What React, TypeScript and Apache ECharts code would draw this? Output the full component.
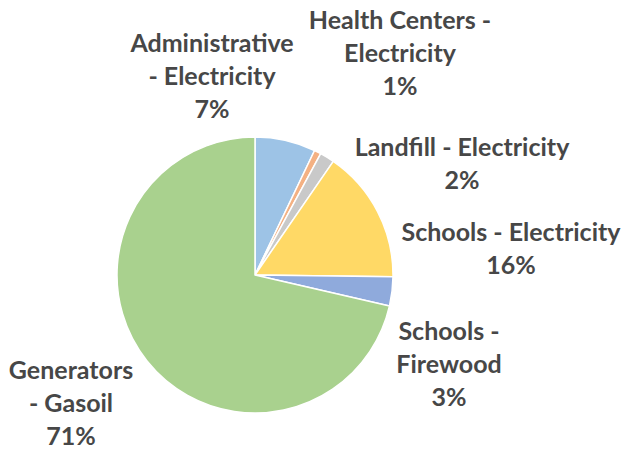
import React, { useEffect, useRef } from "react";
import * as echarts from "echarts";

const categories = [
  "Administrative\n- Electricity",
  "Health Centers -\nElectricity",
  "Landfill - Electricity",
  "Schools - Electricity",
  "Schools -\nFirewood",
  "Generators\n- Gasoil",
];
const values = [7.1, 0.8, 1.7, 15.6, 3.4, 71.4];
const colors = ["#9DC3E6", "#F4B183", "#C9C9C9", "#FFD966", "#8FAADC", "#A9D18E"];
// label anchor points (center of label block)
const labelPos: [number, number][] = [
  [212, 75],
  [400, 52],
  [462, 162],
  [511, 247],
  [449, 363],
  [71, 402],
];

export default function App() {
  const ref = useRef<HTMLDivElement>(null);
  useEffect(() => {
    if (!ref.current) return;
    const chart = echarts.init(ref.current, undefined, { renderer: "svg" });
    chart.setOption({
      animation: false,
      backgroundColor: "#ffffff",
      series: [
        {
          type: "pie",
          center: [255, 275],
          radius: 138,
          startAngle: 90,
          clockwise: true,
          percentPrecision: 0,
          avoidLabelOverlap: false,
          itemStyle: { borderColor: "#ffffff", borderWidth: 1.5 },
          label: {
            show: true,
            formatter: "{b}\n{d}%",
            fontFamily: "Lato",
            fontWeight: "bold",
            fontSize: 25,
            lineHeight: 33,
            color: "#474747",
            align: "center",
          },
          labelLine: { show: false },
          labelLayout: (params: any) => ({
            x: labelPos[params.dataIndex][0],
            y: labelPos[params.dataIndex][1],
            align: "center",
            verticalAlign: "middle",
          }),
          data: categories.map((name, i) => ({
            name,
            value: values[i],
            itemStyle: { color: colors[i] },
          })),
        },
      ],
    });
    return () => chart.dispose();
  }, []);
  return (
    <div
      ref={ref}
      style={{ position: "absolute", left: 0, top: 0, width: 628, height: 450 }}
    />
  );
}
